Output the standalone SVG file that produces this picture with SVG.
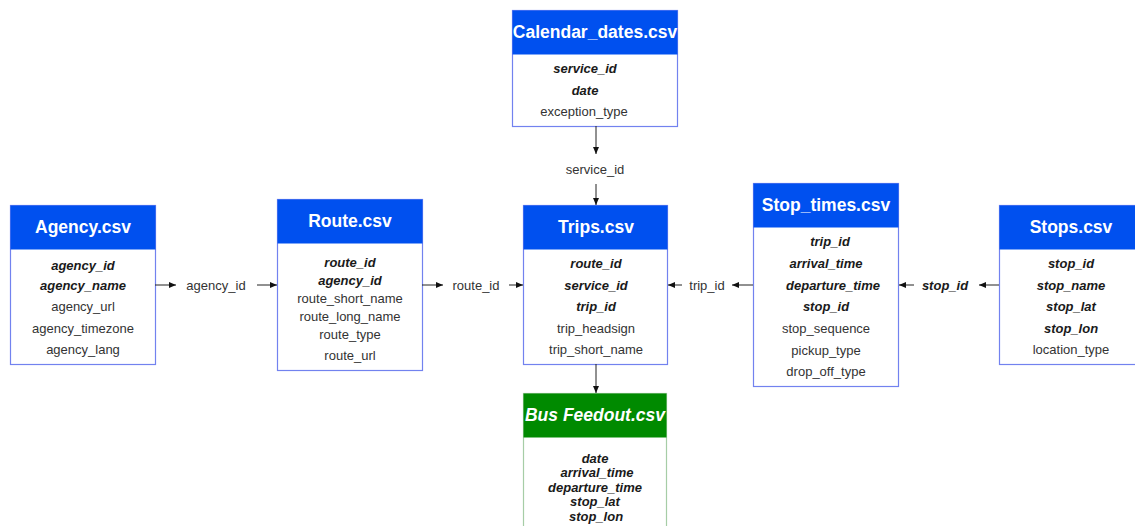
<svg xmlns="http://www.w3.org/2000/svg" width="1135" height="526" viewBox="0 0 1135 526">
<style>
.box{fill:#ffffff;stroke:#7282ef;stroke-width:1.2}
.hdr{fill:#0050ef}
.ghdr{fill:#008a00}
.gbox{fill:#ffffff;stroke:#a6cda6;stroke-width:1.2}
.title{font-family:"Liberation Sans",Arial,sans-serif;font-weight:bold;font-size:17.5px;fill:#ffffff;text-anchor:middle}
.f{font-family:"Liberation Sans",Arial,sans-serif;font-size:13px;fill:#333333;text-anchor:middle}
.k{font-family:"Liberation Sans",Arial,sans-serif;font-size:13px;fill:#1a1a1a;text-anchor:middle;font-weight:bold;font-style:italic}
.lbl{font-family:"Liberation Sans",Arial,sans-serif;font-size:13px;fill:#333333;text-anchor:middle}
.conn{stroke:#222222;stroke-width:1;fill:none;marker-end:url(#ah)}
</style>
<defs>
<marker id="ah" markerWidth="8" markerHeight="8" refX="7" refY="4" orient="auto" markerUnits="userSpaceOnUse">
<path d="M0,1 L7,4 L0,7 Z" fill="#111111"/>
</marker>
</defs>
<rect width="1135" height="526" fill="#ffffff"/>

<g id="agency">
<rect class="box" x="10.5" y="205.5" width="145" height="159"/>
<rect class="hdr" x="10.5" y="205.5" width="145" height="44"/>
<text class="title" x="83" y="233">Agency.csv</text>
<text class="k" x="83" y="270">agency_id</text>
<text class="k" x="83" y="290">agency_name</text>
<text class="f" x="83" y="311">agency_url</text>
<text class="f" x="83" y="333">agency_timezone</text>
<text class="f" x="83" y="354">agency_lang</text>
</g>

<g id="route">
<rect class="box" x="277.5" y="199.5" width="145" height="171"/>
<rect class="hdr" x="277.5" y="199.5" width="145" height="44"/>
<text class="title" x="350" y="227">Route.csv</text>
<text class="k" x="350" y="267">route_id</text>
<text class="k" x="350" y="285">agency_id</text>
<text class="f" x="350" y="303">route_short_name</text>
<text class="f" x="350" y="321">route_long_name</text>
<text class="f" x="350" y="339">route_type</text>
<text class="f" x="350" y="360">route_url</text>
</g>

<g id="calendar">
<rect class="box" x="512.5" y="10.5" width="165" height="116"/>
<rect class="hdr" x="512.5" y="10.5" width="165" height="44"/>
<text class="title" x="595" y="38">Calendar_dates.csv</text>
<text class="k" x="585" y="73">service_id</text>
<text class="k" x="585" y="95">date</text>
<text class="f" x="584" y="116">exception_type</text>
</g>

<g id="trips">
<rect class="box" x="523.5" y="205.5" width="144" height="159"/>
<rect class="hdr" x="523.5" y="205.5" width="144" height="44"/>
<text class="title" x="596" y="233">Trips.csv</text>
<text class="k" x="596" y="268">route_id</text>
<text class="k" x="596" y="290">service_id</text>
<text class="k" x="596" y="311">trip_id</text>
<text class="f" x="596" y="333">trip_headsign</text>
<text class="f" x="596" y="354">trip_short_name</text>
</g>

<g id="stop_times">
<rect class="box" x="753.5" y="183.5" width="145" height="203"/>
<rect class="hdr" x="753.5" y="183.5" width="145" height="44"/>
<text class="title" x="826" y="211">Stop_times.csv</text>
<text class="k" x="830" y="246">trip_id</text>
<text class="k" x="826" y="268">arrival_time</text>
<text class="k" x="833" y="290">departure_time</text>
<text class="k" x="826" y="311">stop_id</text>
<text class="f" x="826" y="333">stop_sequence</text>
<text class="f" x="826" y="355">pickup_type</text>
<text class="f" x="826" y="376">drop_off_type</text>
</g>

<g id="stops">
<rect class="box" x="999.5" y="205.5" width="145" height="159"/>
<rect class="hdr" x="999.5" y="205.5" width="145" height="44"/>
<text class="title" x="1071" y="233">Stops.csv</text>
<text class="k" x="1071" y="268">stop_id</text>
<text class="k" x="1071" y="290">stop_name</text>
<text class="k" x="1071" y="311">stop_lat</text>
<text class="k" x="1071" y="333">stop_lon</text>
<text class="f" x="1071" y="354">location_type</text>
</g>

<g id="bus_feedout">
<rect class="gbox" x="523.5" y="393.5" width="143" height="140"/>
<rect class="ghdr" x="523.5" y="393.5" width="143" height="44"/>
<text class="title" x="595" y="421" font-style="italic">Bus Feedout.csv</text>
<text class="k" x="595" y="463">date</text>
<text class="k" x="597" y="477">arrival_time</text>
<text class="k" x="595" y="492">departure_time</text>
<text class="k" x="595" y="506">stop_lat</text>
<text class="k" x="596" y="521">stop_lon</text>
</g>

<g id="connectors">
<line class="conn" x1="155" y1="285" x2="176" y2="285"/>
<text class="lbl" x="216" y="290">agency_id</text>
<line class="conn" x1="257" y1="285" x2="277" y2="285"/>
<line class="conn" x1="422" y1="285" x2="443" y2="285"/>
<text class="lbl" x="476" y="290">route_id</text>
<line class="conn" x1="509" y1="285" x2="523" y2="285"/>
<line class="conn" x1="596" y1="126" x2="596" y2="154"/>
<text class="lbl" x="595" y="174">service_id</text>
<line class="conn" x1="596" y1="184" x2="596" y2="205"/>
<line class="conn" x1="753" y1="285" x2="732" y2="285"/>
<text class="lbl" x="707" y="290">trip_id</text>
<line class="conn" x1="682" y1="285" x2="668" y2="285"/>
<line class="conn" x1="999" y1="285" x2="979" y2="285"/>
<text class="k" x="945" y="290">stop_id</text>
<line class="conn" x1="914" y1="285" x2="899" y2="285"/>
<line class="conn" x1="596" y1="364" x2="596" y2="393"/>
</g>
</svg>
